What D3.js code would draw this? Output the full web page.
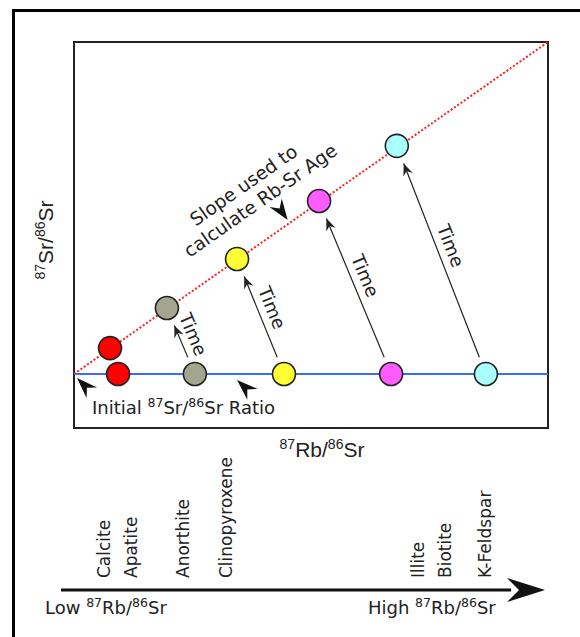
<!DOCTYPE html>
<html>
<head>
<meta charset="utf-8">
<script src="https://cdn.jsdelivr.net/npm/d3@7"></script>
<style>
  html, body { margin: 0; padding: 0; background: #fff; }
  svg { display: block; }
</style>
</head>
<body>
<div id="chart"></div>
<script>
// Minerals along the lower Rb/Sr scale (relative 87Rb/86Sr, 0-100)
const minerals = ["Calcite", "Apatite", "Anorthite", "Clinopyroxene", "Illite", "Biotite", "K-Feldspar"];
const mineralRbSr = [8.9, 14.5, 25.2, 34.1, 73.8, 79.3, 87.6];

// Samples: initial and present-day composition (relative units)
const sampleColors = ["#ff0000", "#a3a58e", "#ffff33", "#ff5cff", "#aaffff"];
const rbSrInitial = [9.3, 25.5, 44.3, 66.9, 86.9];
const srInitial = 0.14;
const rbSrToday = [7.6, 19.6, 34.4, 51.7, 68.1];
const srToday = [0.207, 0.311, 0.438, 0.588, 0.731];
const showTimeArrow = [false, true, true, true, true];

// Isochron endpoints
const isoX = [0, 100];
const isoY = [0.14, 1.0];

const W = 580, H = 637;
const svg = d3.select("#chart").append("svg").attr("width", W).attr("height", H);

const sans = "'DejaVu Sans', Verdana, sans-serif";
const arial = "'Liberation Sans', Arial, sans-serif";
const ink = "#222";

// outer frame
svg.append("rect")
  .attr("x", 13.5).attr("y", 10.5).attr("width", 700).attr("height", 700)
  .attr("fill", "none").attr("stroke", "#000").attr("stroke-width", 3);

const plot = { left: 74, right: 548, top: 42, bottom: 428 };
const x = d3.scaleLinear().domain([0, 100]).range([plot.left, plot.right]);
const y = d3.scaleLinear().domain([0, 1]).range([plot.bottom, plot.top]);

// plot box
svg.append("rect")
  .attr("x", plot.left).attr("y", plot.top)
  .attr("width", plot.right - plot.left).attr("height", plot.bottom - plot.top)
  .attr("fill", "none").attr("stroke", ink).attr("stroke-width", 2);

// initial ratio line
svg.append("line")
  .attr("x1", x(0)).attr("x2", x(100))
  .attr("y1", y(srInitial)).attr("y2", y(srInitial))
  .attr("stroke", "#3a6cf4").attr("stroke-width", 2);

// isochron
svg.append("line")
  .attr("x1", x(isoX[0])).attr("y1", y(isoY[0]))
  .attr("x2", x(isoX[1])).attr("y2", y(isoY[1]))
  .attr("stroke", "#ff2020").attr("stroke-width", 2)
  .attr("stroke-dasharray", "2,2");

// small arrowhead marker for the Time arrows
const defs = svg.append("defs");
defs.append("marker")
  .attr("id", "head").attr("viewBox", "-12 -6 14 12")
  .attr("refX", 0).attr("refY", 0)
  .attr("markerWidth", 14).attr("markerHeight", 12)
  .attr("markerUnits", "userSpaceOnUse")
  .attr("orient", "auto")
  .append("path").attr("d", "M0,0 L-12,-5 L-8,0 L-12,5 Z").attr("fill", ink);

// Time arrows
const startOff = 18, tipOff = 19;
rbSrInitial.forEach((rx, i) => {
  if (!showTimeArrow[i]) return;
  const x0 = x(rx), y0 = y(srInitial);
  const x1 = x(rbSrToday[i]), y1 = y(srToday[i]);
  const dx = x1 - x0, dy = y1 - y0, L = Math.hypot(dx, dy);
  const ux = dx / L, uy = dy / L;
  const sx = x0 + ux * startOff, sy = y0 + uy * startOff;
  const tx = x1 - ux * tipOff, ty = y1 - uy * tipOff;
  svg.append("line")
    .attr("x1", sx).attr("y1", sy).attr("x2", tx).attr("y2", ty)
    .attr("stroke", ink).attr("stroke-width", 1.2)
    .attr("marker-end", "url(#head)");
  const ang = Math.atan2(-dy, -dx) * 180 / Math.PI;
  const t = 0.45;
  const mx = tx + (sx - tx) * t, my = ty + (sy - ty) * t;
  svg.append("text")
    .attr("transform", `translate(${mx},${my}) rotate(${ang})`)
    .attr("y", -7.5)
    .attr("text-anchor", "middle")
    .attr("font-family", sans).attr("font-size", 18).attr("fill", ink)
    .text("Time");
});

// sample circles
const r = 11.5;
svg.selectAll("circle.initial").data(rbSrInitial).join("circle")
  .attr("class", "initial")
  .attr("cx", d => x(d)).attr("cy", y(srInitial)).attr("r", r)
  .attr("fill", (d, i) => sampleColors[i])
  .attr("stroke", ink).attr("stroke-width", 1.6);
svg.selectAll("circle.today").data(rbSrToday).join("circle")
  .attr("class", "today")
  .attr("cx", d => x(d)).attr("cy", (d, i) => y(srToday[i])).attr("r", r)
  .attr("fill", (d, i) => sampleColors[i])
  .attr("stroke", ink).attr("stroke-width", 1.6);

// pointer arrowhead (stealth shape) with tip at (tx,ty), pointing at angle deg
function pointer(tx, ty, deg, len, half, notch) {
  const p = `M0,0 L${-len},${-half} L${-len + notch},0 L${-len},${half} Z`;
  svg.append("path")
    .attr("d", p)
    .attr("transform", `translate(${tx},${ty}) rotate(${deg})`)
    .attr("fill", "#111");
}
pointer(x(0) + 3, y(srInitial) + 4, -135, 21, 7.5, 7);
pointer(x(34.4), y(srInitial) + 6, -137, 21, 7.5, 7);
pointer(x(45.5) - 2, y(isoY[0] + (isoY[1] - isoY[0]) * 0.455) - 3, 55, 21, 7.5, 7);

// helper for text with superscript isotope masses
function isoText(sel, parts, size, supSize) {
  parts.forEach(p => {
    if (p.sup) {
      sel.append("tspan").attr("font-size", supSize).attr("dy", -size * 0.38).text(p.t);
    } else {
      sel.append("tspan").attr("font-size", size).attr("dy", p.after ? size * 0.38 : 0).text(p.t);
    }
  });
}
const srRatio = (pre, post) => [
  { t: pre },
  { t: "87", sup: true }, { t: "Sr/", after: true },
  { t: "86", sup: true }, { t: "Sr" + post, after: true }
];

// Initial ratio label
const initLbl = svg.append("text")
  .attr("x", 92).attr("y", 414)
  .attr("font-family", sans).attr("fill", ink);
isoText(initLbl, srRatio("Initial ", " Ratio"), 18, 12.5);

// slope annotation
const slopeAng = Math.atan2(y(isoY[1]) - y(isoY[0]), x(isoX[1]) - x(isoX[0])) * 180 / Math.PI;
const slopeG = svg.append("text")
  .attr("transform", `translate(260,200) rotate(${slopeAng})`)
  .attr("text-anchor", "middle")
  .attr("font-family", sans).attr("font-size", 18.5).attr("fill", ink);
slopeG.append("tspan").attr("x", -5).attr("y", -15).text("Slope used to");
slopeG.append("tspan").attr("x", 0).attr("y", 7).text("calculate Rb-Sr Age");

// axis titles
const yT = svg.append("text")
  .attr("transform", "translate(53,240) rotate(-90)")
  .attr("text-anchor", "middle")
  .attr("font-family", arial).attr("fill", ink);
isoText(yT, srRatio("", ""), 21, 14);

const xT = svg.append("text")
  .attr("x", 322).attr("y", 457)
  .attr("text-anchor", "middle")
  .attr("font-family", arial).attr("fill", ink);
isoText(xT, [
  { t: "" }, { t: "87", sup: true }, { t: "Rb/", after: true },
  { t: "86", sup: true }, { t: "Sr", after: true }
], 21, 14);

// lower Rb/Sr scale
const xs = d3.scaleLinear().domain([0, 100]).range([61, 545]);
const arrowY = 590;
svg.append("line")
  .attr("x1", xs(0)).attr("x2", xs(93))
  .attr("y1", arrowY).attr("y2", arrowY)
  .attr("stroke", "#111").attr("stroke-width", 3);
pointer(xs(100), arrowY, 0, 38, 12, 12);

svg.selectAll("text.mineral").data(minerals).join("text")
  .attr("class", "mineral")
  .attr("transform", (d, i) => `translate(${xs(mineralRbSr[i])},578) rotate(-90)`)
  .attr("dy", "0.36em")
  .attr("font-family", sans).attr("font-size", 17).attr("fill", ink)
  .text(d => d);

const rbSr = (pre) => [
  { t: pre }, { t: "87", sup: true }, { t: "Rb/", after: true },
  { t: "86", sup: true }, { t: "Sr", after: true }
];
const lowT = svg.append("text").attr("x", 45).attr("y", 614)
  .attr("font-family", sans).attr("fill", ink);
isoText(lowT, rbSr("Low "), 18, 12.5);
const highT = svg.append("text").attr("x", 368).attr("y", 614)
  .attr("font-family", sans).attr("fill", ink);
isoText(highT, rbSr("High "), 18, 12.5);
</script>
</body>
</html>
